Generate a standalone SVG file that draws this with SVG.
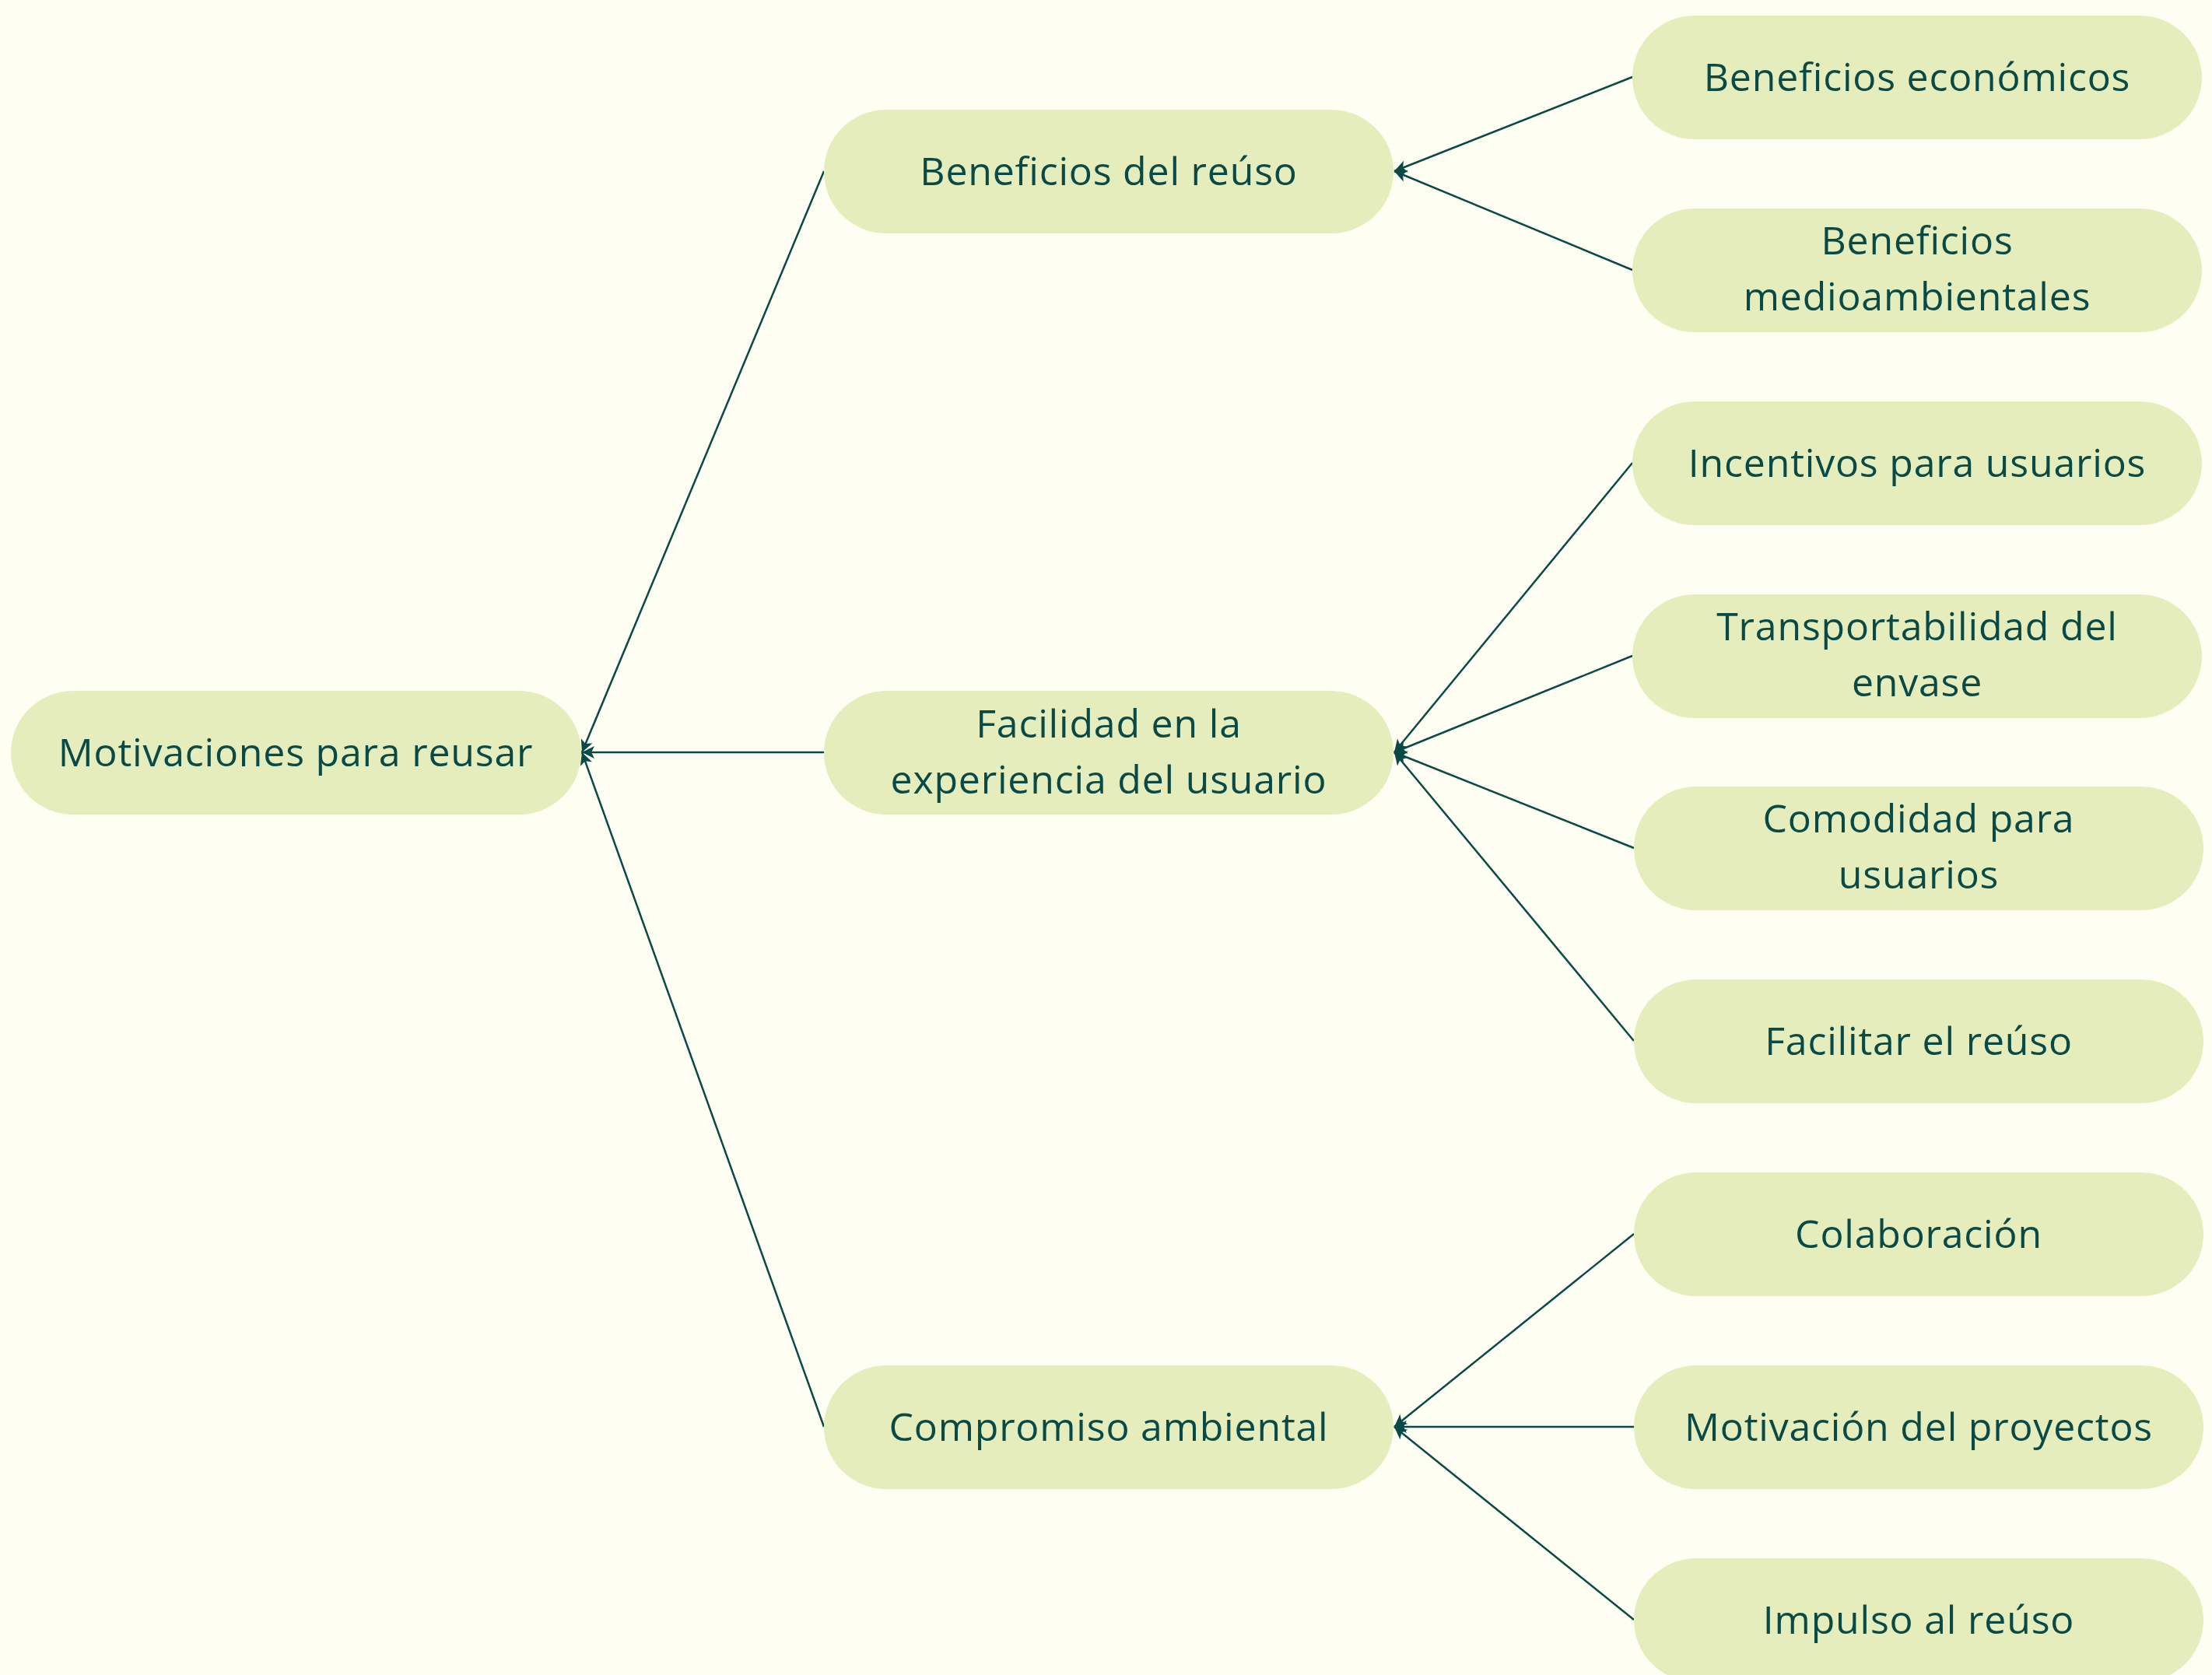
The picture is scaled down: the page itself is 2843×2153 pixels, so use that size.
<svg xmlns="http://www.w3.org/2000/svg" width="2843" height="2153" viewBox="0 0 2843 2153">
<style>
.bg{fill:#FEFEF3}
.n{fill:#E5EDBD}
.t{font-family:"Open Sans","Noto Sans",sans-serif;font-size:50px;letter-spacing:0.8px;fill:#0A4A46;text-anchor:middle}
.e{stroke:#0A4A46;stroke-width:2.5;fill:none;marker-end:url(#arr)}
</style>
<defs>
<marker id="arr" markerUnits="userSpaceOnUse" markerWidth="18" markerHeight="20" viewBox="0 0 18 20" refX="17" refY="10" orient="auto">
<path d="M1,2 L17,10 L1,18 L5,10 Z" fill="#0A4A46"/>
</marker>
</defs>
<rect class="bg" x="0" y="0" width="2843" height="2153"/>
<g id="connectors">
<line class="e" x1="1059" y1="220" x2="748" y2="967"/>
<line class="e" x1="1059" y1="967" x2="748" y2="967"/>
<line class="e" x1="1059" y1="1834" x2="748" y2="967"/>
<line class="e" x1="2098" y1="99" x2="1792" y2="220"/>
<line class="e" x1="2098" y1="347" x2="1792" y2="220"/>
<line class="e" x1="2098" y1="595" x2="1792" y2="967"/>
<line class="e" x1="2098" y1="843" x2="1792" y2="967"/>
<line class="e" x1="2100" y1="1090" x2="1792" y2="967"/>
<line class="e" x1="2100" y1="1338" x2="1792" y2="967"/>
<line class="e" x1="2100" y1="1586" x2="1792" y2="1834"/>
<line class="e" x1="2100" y1="1834" x2="1792" y2="1834"/>
<line class="e" x1="2100" y1="2082" x2="1792" y2="1834"/>
</g>
<g id="root">
<rect class="n" x="14" y="888" width="733" height="159" rx="80"/>
<text class="t" x="380" y="985">Motivaciones para reusar</text>
</g>
<g id="beneficios-reuso">
<rect class="n" x="1059" y="141" width="732" height="159" rx="80"/>
<text class="t" x="1425" y="238">Beneficios del reúso</text>
</g>
<g id="facilidad">
<rect class="n" x="1059" y="888" width="732" height="159" rx="80"/>
<text class="t" x="1425" y="948">Facilidad en la</text>
<text class="t" x="1425" y="1020">experiencia del usuario</text>
</g>
<g id="compromiso">
<rect class="n" x="1059" y="1755" width="732" height="159" rx="80"/>
<text class="t" x="1425" y="1852">Compromiso ambiental</text>
</g>
<g id="beneficios-economicos">
<rect class="n" x="2098" y="20" width="732" height="159" rx="80"/>
<text class="t" x="2464" y="117">Beneficios económicos</text>
</g>
<g id="beneficios-medioambientales">
<rect class="n" x="2098" y="268" width="732" height="159" rx="80"/>
<text class="t" x="2464" y="327">Beneficios</text>
<text class="t" x="2464" y="399">medioambientales</text>
</g>
<g id="incentivos">
<rect class="n" x="2098" y="516" width="732" height="159" rx="80"/>
<text class="t" x="2464" y="613">Incentivos para usuarios</text>
</g>
<g id="transportabilidad">
<rect class="n" x="2098" y="764" width="732" height="159" rx="80"/>
<text class="t" x="2464" y="823">Transportabilidad del</text>
<text class="t" x="2464" y="895">envase</text>
</g>
<g id="comodidad">
<rect class="n" x="2100" y="1011" width="732" height="159" rx="80"/>
<text class="t" x="2466" y="1070">Comodidad para</text>
<text class="t" x="2466" y="1142">usuarios</text>
</g>
<g id="facilitar">
<rect class="n" x="2100" y="1259" width="732" height="159" rx="80"/>
<text class="t" x="2466" y="1356">Facilitar el reúso</text>
</g>
<g id="colaboracion">
<rect class="n" x="2100" y="1507" width="732" height="159" rx="80"/>
<text class="t" x="2466" y="1604">Colaboración</text>
</g>
<g id="motivacion-proyectos">
<rect class="n" x="2100" y="1755" width="732" height="159" rx="80"/>
<text class="t" x="2466" y="1852">Motivación del proyectos</text>
</g>
<g id="impulso">
<rect class="n" x="2100" y="2003" width="732" height="159" rx="80"/>
<text class="t" x="2466" y="2100">Impulso al reúso</text>
</g>
</svg>
